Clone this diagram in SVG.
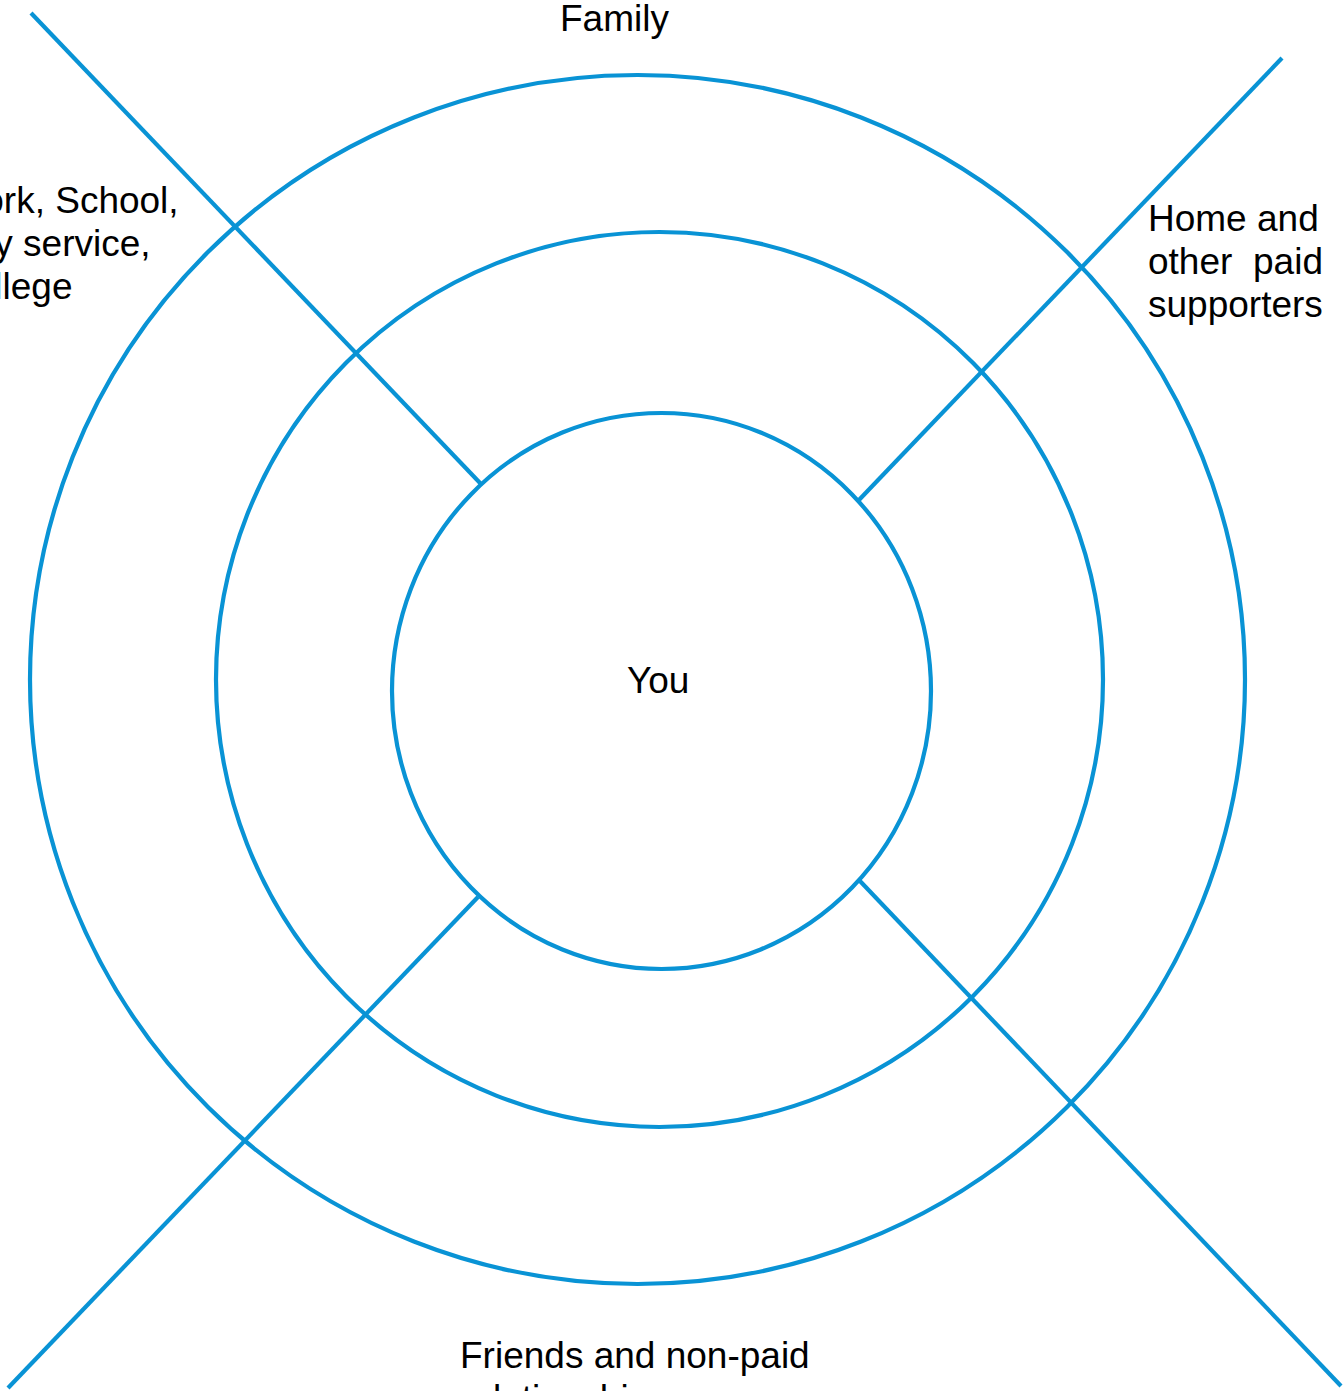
<svg xmlns="http://www.w3.org/2000/svg" width="1344" height="1391" viewBox="0 0 1344 1391">
<style>
.ring{fill:none;stroke:#0993d5;stroke-width:4.2}
.ln{fill:none;stroke:#0993d5;stroke-width:4.2}
.t{font-family:"Liberation Sans",Arial,sans-serif;font-size:37px;fill:#000}
</style>
<rect width="1344" height="1391" fill="#fff"/>
<g id="rings">
<ellipse id="outer" class="ring" cx="637.5" cy="679.5" rx="607.5" ry="604.5"/>
<ellipse id="middle" class="ring" cx="659.5" cy="679.5" rx="443.5" ry="447.5"/>
<ellipse id="inner" class="ring" cx="661.5" cy="691" rx="269.5" ry="278"/>
</g>
<g id="connectors">
<line class="ln" x1="31" y1="13" x2="481" y2="484"/>
<line class="ln" x1="1282" y1="58" x2="858" y2="501"/>
<line class="ln" x1="8" y1="1388" x2="478" y2="897"/>
<line class="ln" x1="859" y1="880" x2="1341" y2="1386"/>
</g>
<g id="label-you"><text class="t" x="627" y="693">You</text></g>
<g id="label-family"><text class="t" x="560" y="31">Family</text></g>
<g id="label-work">
<text class="t" x="-51" y="213">Work, School,</text>
<text class="t" x="-53" y="256">Day service,</text>
<text class="t" x="-53" y="299">College</text>
</g>
<g id="label-home">
<text class="t" x="1148" y="231">Home and</text>
<text class="t" x="1148" y="274">other</text>
<text class="t" x="1323" y="274" text-anchor="end">paid</text>
<text class="t" x="1148" y="317">supporters</text>
</g>
<g id="label-friends">
<text class="t" x="460" y="1368">Friends and non-paid</text>
<text class="t" x="460" y="1411">relationships</text>
</g>
</svg>
